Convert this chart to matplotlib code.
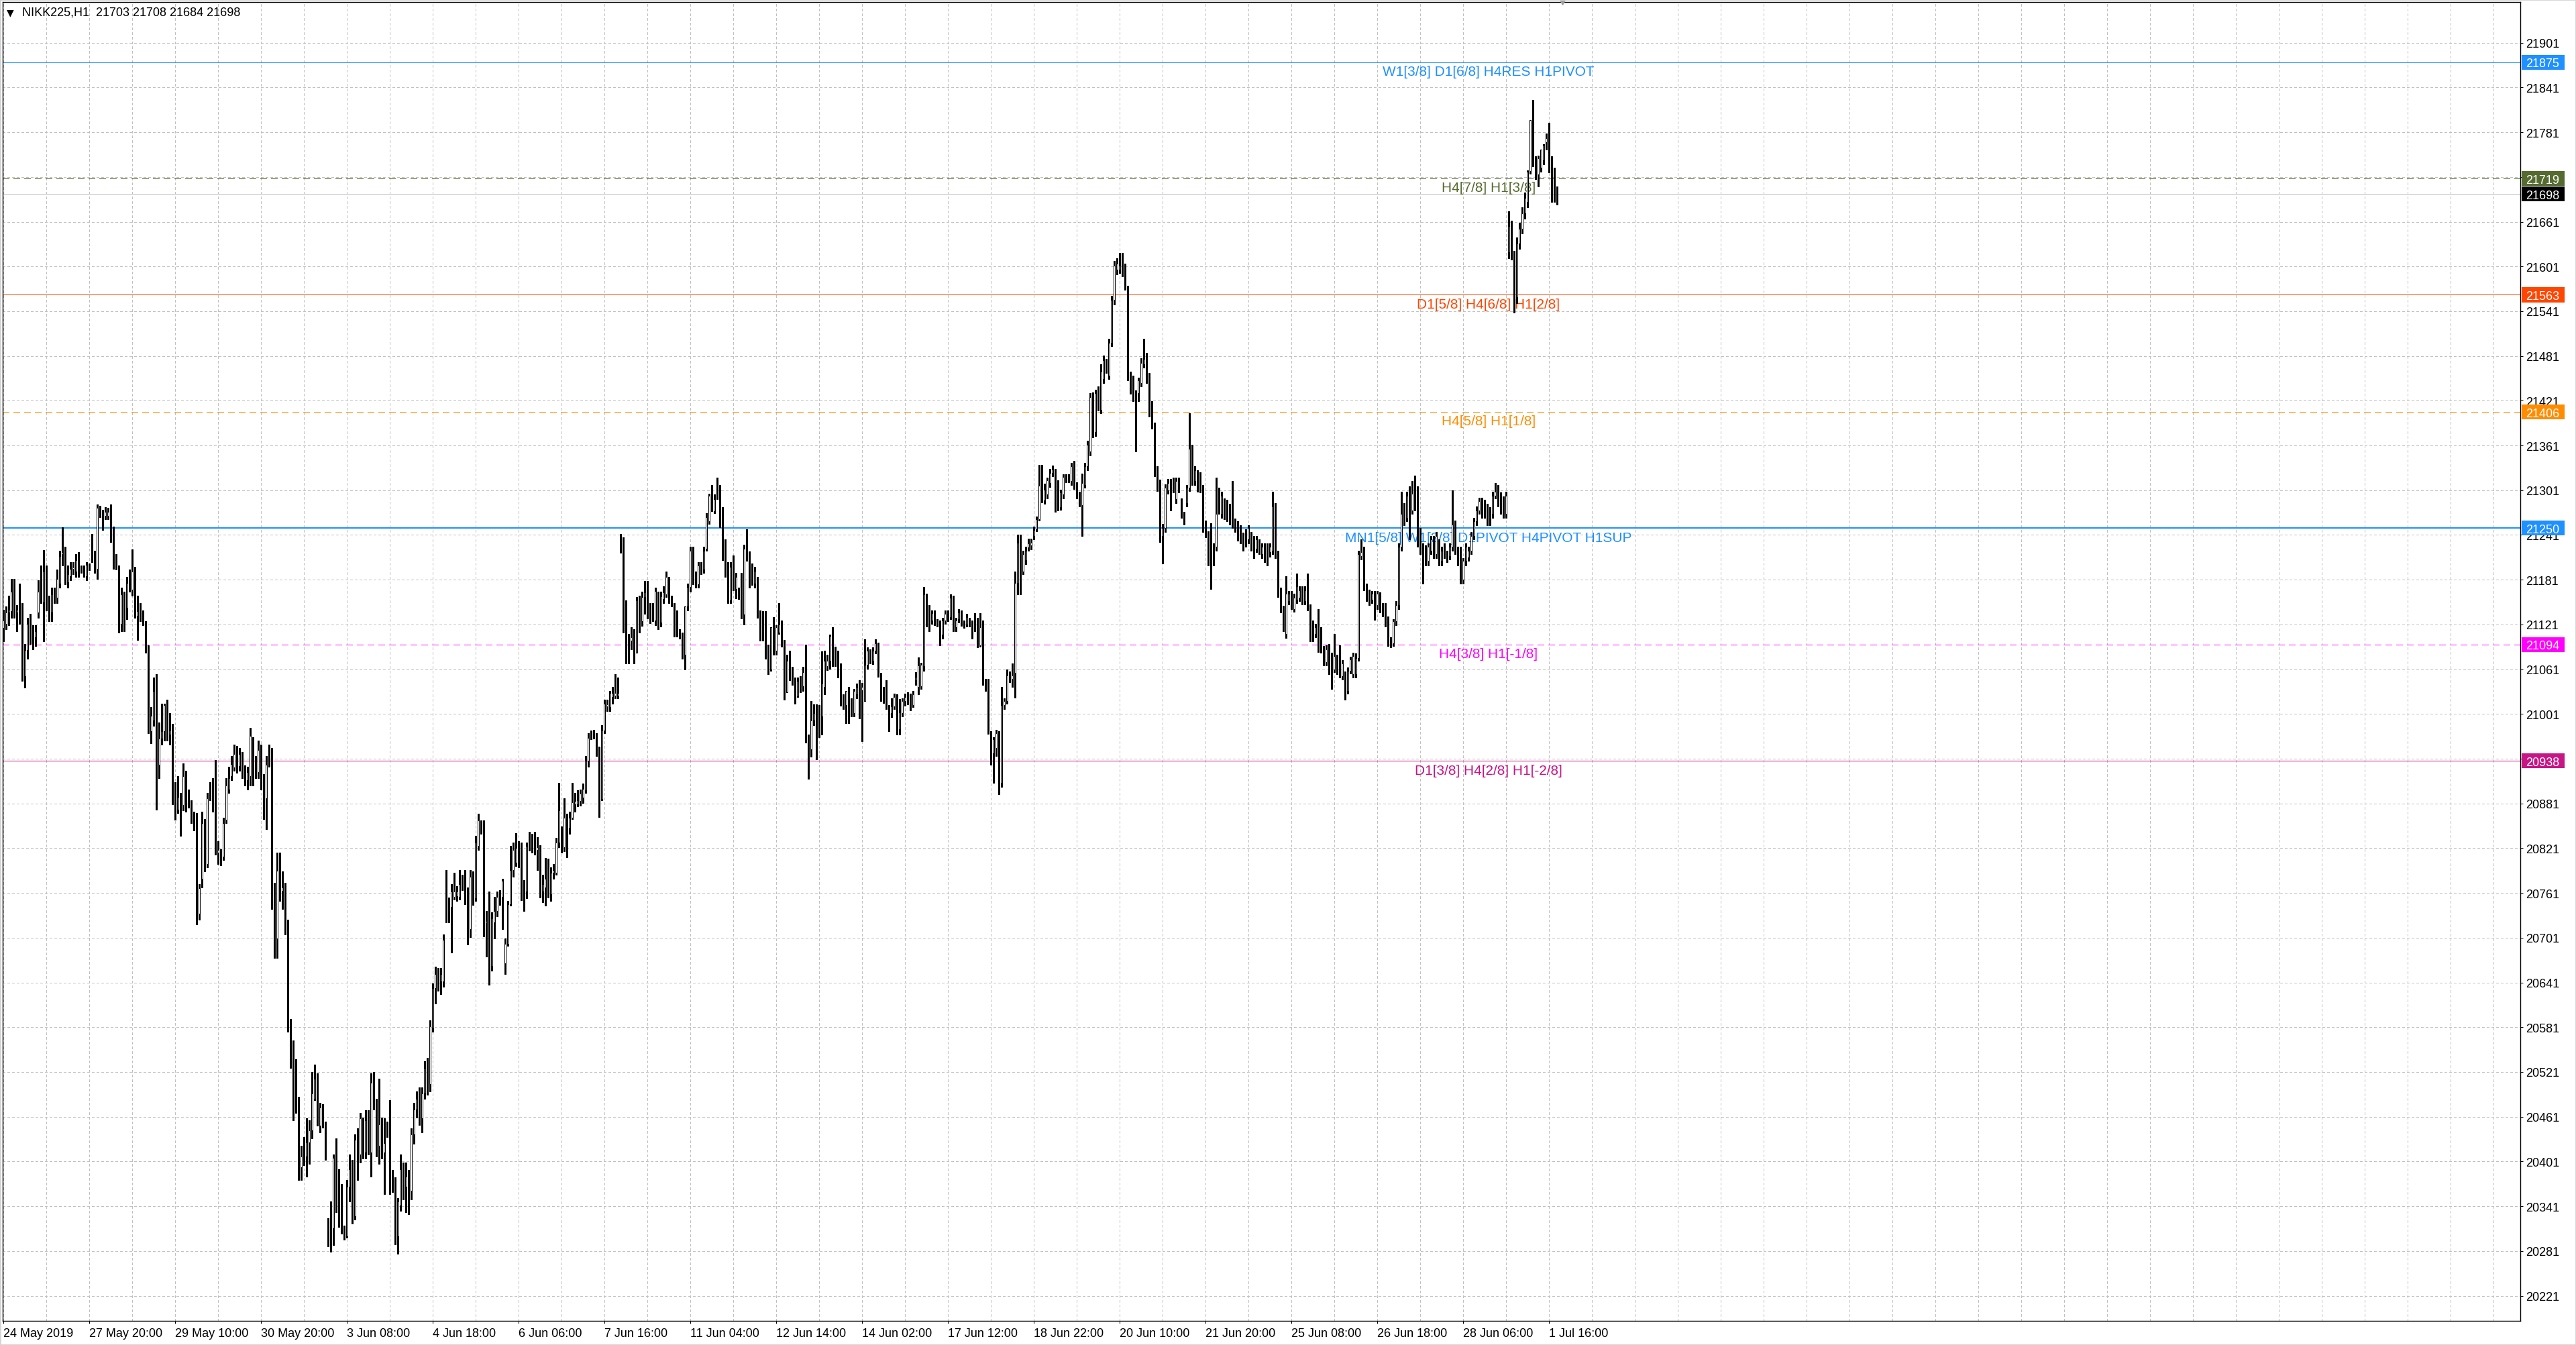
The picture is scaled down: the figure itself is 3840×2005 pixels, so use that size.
import numpy as np
import matplotlib
matplotlib.use('Agg')
import matplotlib.pyplot as plt
from matplotlib.patches import Rectangle
from matplotlib.transforms import blended_transform_factory

plt.rcParams['font.family'] = ['Liberation Sans', 'DejaVu Sans']

symbol = 'NIKK225,H1'
last_bar = [21703, 21708, 21684, 21698]  # O H L C shown in the header
bid = 21698

# hourly bars, 24 May 2019 -> 1 Jul 2019 (10 bars per row)
opens = [
    21116, 21122, 21137, 21139, 21165, 21137, 21141, 21137, 21052, 21087,
    21126, 21112, 21104, 21137, 21161, 21151, 21188, 21151, 21137, 21157,
    21157, 21176, 21215, 21217, 21178, 21186, 21196, 21192, 21212, 21196,
    21193, 21186, 21198, 21222, 21217, 21196, 21272, 21268, 21267, 21267,
    21267, 21241, 21212, 21197, 21122, 21161, 21143, 21177, 21168, 21192,
    21133, 21142, 21133, 21122, 21087, 20978, 20992, 21028, 20933, 20968,
    20978, 21008, 20973, 20983, 20898, 20873, 20890, 20879, 20914, 20890,
    20879, 20863, 20859, 20733, 20780, 20855, 20800, 20902, 20908, 20873,
    20815, 20813, 20810, 20859, 20900, 20918, 20929, 20947, 20931, 20942,
    20927, 20912, 20918, 20966, 20933, 20923, 20953, 20917, 20888, 20949,
    20944, 20768, 20700, 20791, 20764, 20764, 20717, 20577, 20550, 20483,
    20483, 20393, 20408, 20408, 20427, 20443, 20485, 20512, 20449, 20473,
    20442, 20316, 20315, 20311, 20411, 20381, 20367, 20313, 20301, 20367,
    20395, 20328, 20430, 20410, 20446, 20413, 20456, 20413, 20507, 20473,
    20422, 20451, 20413, 20451, 20437, 20376, 20372, 20301, 20342, 20391,
    20367, 20381, 20362, 20437, 20471, 20492, 20459, 20492, 20526, 20505,
    20580, 20633, 20652, 20642, 20642, 20783, 20751, 20742, 20756, 20757,
    20756, 20773, 20773, 20759, 20713, 20778, 20754, 20824, 20853, 20843,
    20722, 20722, 20663, 20722, 20737, 20756, 20756, 20667, 20693, 20746,
    20792, 20802, 20821, 20814, 20766, 20763, 20826, 20829, 20822, 20819,
    20813, 20763, 20768, 20780, 20759, 20788, 20788, 20829, 20845, 20822,
    20860, 20848, 20862, 20880, 20880, 20884, 20889, 20899, 20938, 20974,
    20974, 20969, 20952, 20887, 20979, 21011, 21010, 21024, 21026, 21026,
    21238, 21228, 21108, 21099, 21099, 21104, 21083, 21153, 21125, 21158,
    21164, 21144, 21143, 21126, 21159, 21124, 21155, 21161, 21179, 21155,
    21145, 21136, 21110, 21105, 21080, 21145, 21171, 21215, 21185, 21175,
    21200, 21195, 21223, 21259, 21294, 21273, 21293, 21299, 21268, 21230,
    21198, 21153, 21203, 21169, 21163, 21163, 21134, 21229, 21214, 21193,
    21176, 21179, 21134, 21115, 21105, 21085, 21061, 21117, 21086, 21110,
    21121, 21096, 21030, 21072, 21058, 21042, 21025, 21049, 21038, 21057,
    20965, 20954, 20992, 21000, 21000, 20998, 21037, 21065, 21072, 21110,
    21083, 21078, 21067, 21022, 21013, 21032, 21014, 21002, 21027, 21037,
    21033, 21018, 21067, 21086, 21072, 21086, 21093, 21048, 21034, 21027,
    21013, 21002, 21011, 21024, 20981, 21002, 21018, 21022, 21024, 21013,
    21046, 21037, 21038, 21065, 21158, 21142, 21126, 21136, 21123, 21123,
    21107, 21126, 21135, 21131, 21157, 21117, 21128, 21137, 21123, 21121,
    21126, 21121, 21126, 21126, 21093, 21121, 21043, 21043, 20967, 20948,
    20955, 20973, 20909, 21013, 21018, 21053, 21048, 21056, 21177, 21231,
    21192, 21207, 21224, 21227, 21240, 21249, 21262, 21314, 21287, 21295,
    21311, 21324, 21326, 21309, 21278, 21295, 21319, 21319, 21313, 21335,
    21308, 21294, 21281, 21308, 21333, 21353, 21426, 21379, 21431, 21409,
    21450, 21472, 21455, 21499, 21556, 21597, 21597, 21605, 21597, 21570,
    21455, 21448, 21431, 21431, 21445, 21470, 21480, 21453, 21416, 21389,
    21328, 21311, 21240, 21250, 21301, 21311, 21313, 21289, 21313, 21286,
    21269, 21284, 21304, 21357, 21313, 21323, 21321, 21304, 21255, 21242,
    21252, 21225, 21225, 21299, 21269, 21286, 21284, 21279, 21274, 21259,
    21255, 21250, 21240, 21245, 21235, 21240, 21235, 21223, 21230, 21215,
    21225, 21225, 21218, 21220, 21279, 21215, 21167, 21142, 21108, 21152,
    21162, 21142, 21154, 21157, 21167, 21152, 21176, 21145, 21122, 21108,
    21117, 21113, 21088, 21071, 21091, 21079, 21061, 21076, 21069, 21052,
    21054, 21032, 21059, 21054, 21054, 21076, 21213, 21220, 21172, 21164,
    21154, 21162, 21147, 21160, 21147, 21147, 21130, 21100, 21096, 21125,
    21147, 21225, 21279, 21264, 21301, 21274, 21304, 21301, 21245, 21225,
    21223, 21206, 21220, 21235, 21215, 21230, 21206, 21225, 21213, 21213,
    21225, 21255, 21220, 21220, 21181, 21206, 21211, 21220, 21240, 21259,
    21274, 21286, 21284, 21279, 21274, 21269, 21294, 21304, 21294, 21289,
    21269, 21620, 21655, 21617, 21560, 21632, 21652, 21672, 21688, 21729,
    21794, 21738, 21724, 21733, 21743, 21768, 21773, 21729, 21724, 21703,
]
highs = [
    21141, 21145, 21160, 21182, 21182, 21147, 21176, 21150, 21095, 21130,
    21135, 21120, 21120, 21180, 21200, 21221, 21200, 21160, 21170, 21170,
    21195, 21220, 21251, 21225, 21200, 21205, 21205, 21215, 21218, 21200,
    21200, 21205, 21203, 21242, 21220, 21282, 21280, 21275, 21278, 21277,
    21282, 21252, 21215, 21200, 21170, 21165, 21185, 21195, 21222, 21198,
    21160, 21150, 21140, 21125, 21093, 21010, 21050, 21054, 20990, 21015,
    21015, 21020, 21002, 20988, 20910, 20918, 20895, 20935, 20925, 20900,
    20885, 20870, 20868, 20773, 20870, 20860, 20895, 20910, 20915, 20939,
    20830, 20820, 20862, 20915, 20930, 20945, 20960, 20958, 20955, 20950,
    20932, 20930, 20982, 20970, 20945, 20965, 20960, 20920, 20945, 20960,
    20955, 20775, 20815, 20815, 20790, 20775, 20725, 20592, 20563, 20538,
    20488, 20422, 20434, 20459, 20456, 20521, 20531, 20519, 20480, 20478,
    20454, 20325, 20347, 20410, 20432, 20391, 20371, 20315, 20376, 20410,
    20403, 20437, 20445, 20466, 20460, 20470, 20470, 20519, 20521, 20485,
    20512, 20460, 20459, 20454, 20483, 20390, 20380, 20352, 20410, 20400,
    20400, 20390, 20445, 20480, 20495, 20500, 20500, 20535, 20540, 20590,
    20640, 20662, 20660, 20660, 20705, 20792, 20755, 20773, 20788, 20770,
    20792, 20785, 20792, 20768, 20792, 20790, 20838, 20867, 20858, 20858,
    20737, 20763, 20735, 20756, 20763, 20765, 20780, 20700, 20750, 20824,
    20829, 20841, 20830, 20829, 20778, 20829, 20843, 20840, 20843, 20836,
    20825, 20785, 20808, 20807, 20795, 20800, 20835, 20909, 20850, 20888,
    20867, 20870, 20909, 20895, 20899, 20900, 20908, 20945, 20975, 20979,
    20980, 20975, 20957, 20986, 21020, 21020, 21032, 21037, 21054, 21050,
    21242, 21238, 21153, 21108, 21117, 21115, 21158, 21160, 21165, 21179,
    21179, 21150, 21150, 21170, 21165, 21165, 21172, 21192, 21185, 21160,
    21150, 21140, 21115, 21110, 21145, 21176, 21225, 21225, 21192, 21205,
    21205, 21225, 21270, 21296, 21308, 21295, 21318, 21308, 21278, 21235,
    21205, 21205, 21214, 21190, 21170, 21190, 21228, 21249, 21219, 21203,
    21198, 21185, 21140, 21139, 21139, 21094, 21117, 21131, 21120, 21150,
    21126, 21100, 21080, 21086, 21064, 21050, 21050, 21052, 21064, 21094,
    20973, 21018, 21014, 21014, 21013, 21085, 21086, 21080, 21107, 21117,
    21091, 21086, 21069, 21027, 21032, 21037, 21022, 21035, 21042, 21046,
    21043, 21101, 21090, 21088, 21090, 21101, 21097, 21056, 21037, 21046,
    21013, 21022, 21028, 21027, 21021, 21022, 21028, 21030, 21028, 21032,
    21057, 21077, 21070, 21171, 21162, 21147, 21140, 21140, 21128, 21126,
    21130, 21140, 21140, 21161, 21160, 21130, 21142, 21140, 21126, 21135,
    21130, 21126, 21136, 21130, 21136, 21126, 21048, 21048, 20978, 20970,
    20980, 20978, 21037, 21022, 21061, 21058, 21069, 21192, 21241, 21241,
    21220, 21225, 21236, 21236, 21252, 21266, 21335, 21335, 21310, 21318,
    21330, 21334, 21330, 21314, 21302, 21322, 21322, 21322, 21338, 21340,
    21312, 21299, 21323, 21338, 21367, 21431, 21432, 21436, 21440, 21470,
    21482, 21477, 21504, 21562, 21608, 21612, 21619, 21619, 21605, 21575,
    21460, 21455, 21435, 21452, 21478, 21504, 21485, 21458, 21420, 21392,
    21333, 21315, 21256, 21309, 21316, 21316, 21318, 21318, 21318, 21290,
    21272, 21308, 21404, 21362, 21333, 21328, 21325, 21308, 21260, 21246,
    21257, 21230, 21318, 21304, 21299, 21290, 21288, 21283, 21313, 21263,
    21259, 21254, 21244, 21249, 21254, 21245, 21240, 21240, 21235, 21230,
    21230, 21230, 21230, 21299, 21284, 21220, 21170, 21146, 21186, 21166,
    21166, 21162, 21189, 21172, 21172, 21172, 21189, 21148, 21126, 21122,
    21142, 21117, 21092, 21093, 21095, 21083, 21108, 21080, 21093, 21073,
    21058, 21063, 21078, 21083, 21082, 21220, 21235, 21225, 21176, 21168,
    21166, 21166, 21166, 21164, 21150, 21150, 21132, 21104, 21128, 21152,
    21230, 21299, 21284, 21299, 21306, 21313, 21321, 21306, 21250, 21230,
    21227, 21230, 21240, 21240, 21245, 21235, 21225, 21230, 21220, 21230,
    21301, 21260, 21225, 21225, 21210, 21230, 21225, 21245, 21264, 21279,
    21291, 21291, 21288, 21283, 21278, 21299, 21311, 21308, 21298, 21293,
    21299, 21675, 21662, 21622, 21640, 21660, 21680, 21700, 21730, 21797,
    21824, 21749, 21750, 21758, 21765, 21779, 21794, 21749, 21733, 21708,
]
lows = [
    21098, 21115, 21120, 21130, 21130, 21112, 21122, 21045, 21036, 21075,
    21095, 21088, 21092, 21130, 21150, 21098, 21140, 21125, 21125, 21150,
    21150, 21170, 21200, 21175, 21170, 21180, 21188, 21185, 21185, 21190,
    21185, 21180, 21194, 21205, 21190, 21182, 21265, 21248, 21262, 21262,
    21232, 21196, 21195, 21110, 21112, 21112, 21128, 21165, 21160, 21130,
    21100, 21125, 21120, 21083, 20975, 20962, 20985, 20873, 20915, 20960,
    20965, 20965, 20960, 20880, 20859, 20868, 20838, 20872, 20870, 20875,
    20855, 20845, 20719, 20725, 20768, 20790, 20795, 20885, 20870, 20812,
    20800, 20798, 20805, 20855, 20895, 20912, 20925, 20922, 20925, 20915,
    20905, 20900, 20905, 20905, 20915, 20915, 20900, 20860, 20847, 20930,
    20740, 20674, 20674, 20750, 20740, 20705, 20575, 20526, 20456, 20466,
    20376, 20376, 20396, 20381, 20398, 20432, 20483, 20449, 20440, 20446,
    20403, 20287, 20280, 20289, 20333, 20313, 20304, 20296, 20299, 20347,
    20318, 20323, 20376, 20400, 20405, 20405, 20410, 20381, 20471, 20408,
    20398, 20405, 20357, 20434, 20357, 20360, 20290, 20277, 20335, 20350,
    20333, 20330, 20350, 20425, 20460, 20450, 20440, 20485, 20490, 20495,
    20575, 20613, 20630, 20625, 20635, 20722, 20722, 20681, 20752, 20750,
    20752, 20765, 20746, 20692, 20702, 20745, 20750, 20819, 20840, 20703,
    20676, 20638, 20657, 20700, 20730, 20745, 20713, 20652, 20690, 20744,
    20783, 20797, 20795, 20751, 20737, 20754, 20818, 20815, 20812, 20792,
    20755, 20749, 20744, 20755, 20750, 20780, 20785, 20822, 20815, 20817,
    20809, 20840, 20860, 20870, 20877, 20878, 20882, 20895, 20930, 20967,
    20968, 20945, 20863, 20885, 20975, 21005, 21005, 21015, 21022, 21022,
    21217, 21110, 21069, 21069, 21088, 21069, 21083, 21110, 21119, 21135,
    21129, 21123, 21125, 21120, 21115, 21118, 21150, 21158, 21150, 21145,
    21105, 21105, 21102, 21075, 21061, 21140, 21165, 21175, 21170, 21170,
    21188, 21190, 21220, 21256, 21273, 21270, 21289, 21251, 21207, 21185,
    21150, 21150, 21167, 21156, 21155, 21129, 21121, 21206, 21170, 21174,
    21170, 21130, 21099, 21099, 21075, 21054, 21059, 21080, 21080, 21108,
    21091, 21020, 21030, 21046, 21040, 21015, 21024, 21030, 21032, 20963,
    20914, 20944, 20986, 20940, 20970, 20973, 21027, 21060, 21062, 21065,
    21065, 21050, 21012, 21008, 20989, 20989, 20998, 20998, 21022, 20995,
    20964, 21018, 21062, 21069, 21068, 21082, 21051, 21018, 21016, 21008,
    20978, 20997, 21008, 20973, 20973, 20998, 21012, 21014, 21006, 21010,
    21040, 21027, 21035, 21059, 21118, 21112, 21122, 21120, 21118, 21093,
    21102, 21122, 21125, 21128, 21112, 21112, 21124, 21119, 21116, 21118,
    21118, 21102, 21112, 21090, 21091, 21040, 21032, 20974, 20933, 20909,
    20945, 20893, 20903, 21008, 21015, 21044, 21037, 21023, 21161, 21161,
    21188, 21202, 21220, 21222, 21235, 21246, 21260, 21285, 21283, 21290,
    21305, 21320, 21272, 21274, 21275, 21290, 21312, 21312, 21308, 21303,
    21290, 21279, 21240, 21304, 21328, 21348, 21372, 21374, 21408, 21404,
    21445, 21458, 21450, 21494, 21550, 21590, 21592, 21588, 21570, 21448,
    21430, 21420, 21353, 21420, 21440, 21465, 21445, 21400, 21384, 21320,
    21300, 21232, 21203, 21245, 21296, 21274, 21298, 21284, 21298, 21264,
    21255, 21279, 21300, 21308, 21308, 21299, 21298, 21245, 21238, 21200,
    21169, 21200, 21220, 21269, 21264, 21262, 21259, 21255, 21250, 21245,
    21233, 21230, 21220, 21225, 21230, 21220, 21210, 21218, 21215, 21210,
    21205, 21200, 21212, 21215, 21210, 21158, 21137, 21112, 21103, 21148,
    21142, 21138, 21150, 21152, 21148, 21148, 21140, 21098, 21098, 21104,
    21084, 21083, 21066, 21066, 21054, 21035, 21057, 21054, 21050, 21047,
    21020, 21028, 21055, 21050, 21050, 21072, 21208, 21167, 21152, 21147,
    21150, 21127, 21142, 21137, 21132, 21118, 21092, 21090, 21092, 21120,
    21142, 21220, 21254, 21259, 21235, 21269, 21274, 21225, 21215, 21176,
    21200, 21200, 21215, 21210, 21210, 21200, 21200, 21210, 21205, 21208,
    21220, 21215, 21200, 21176, 21176, 21200, 21206, 21215, 21235, 21254,
    21269, 21264, 21264, 21254, 21254, 21264, 21290, 21279, 21269, 21264,
    21264, 21612, 21610, 21539, 21552, 21625, 21645, 21665, 21680, 21725,
    21735, 21718, 21708, 21728, 21738, 21758, 21727, 21688, 21688, 21684,
]
closes = [
    21126, 21137, 21141, 21165, 21141, 21141, 21140, 21052, 21087, 21122,
    21106, 21106, 21112, 21165, 21157, 21192, 21151, 21143, 21161, 21158,
    21182, 21213, 21217, 21180, 21188, 21196, 21197, 21207, 21196, 21196,
    21192, 21201, 21199, 21217, 21196, 21277, 21273, 21267, 21272, 21272,
    21237, 21217, 21203, 21118, 21161, 21147, 21177, 21172, 21192, 21137,
    21139, 21138, 21126, 21089, 20982, 20999, 21032, 20929, 20968, 20978,
    21013, 20972, 20979, 20898, 20873, 20890, 20879, 20918, 20892, 20884,
    20868, 20859, 20733, 20767, 20855, 20803, 20888, 20901, 20879, 20820,
    20819, 20810, 20855, 20905, 20915, 20934, 20947, 20927, 20947, 20923,
    20917, 20923, 20972, 20923, 20923, 20953, 20912, 20888, 20933, 20939,
    20768, 20700, 20791, 20764, 20768, 20715, 20577, 20548, 20483, 20482,
    20393, 20408, 20409, 20427, 20443, 20492, 20512, 20451, 20473, 20449,
    20413, 20315, 20314, 20406, 20381, 20367, 20313, 20301, 20367, 20391,
    20328, 20430, 20400, 20459, 20413, 20456, 20417, 20507, 20473, 20422,
    20451, 20413, 20426, 20437, 20376, 20372, 20301, 20347, 20391, 20367,
    20381, 20362, 20437, 20471, 20485, 20459, 20492, 20526, 20505, 20582,
    20633, 20652, 20651, 20652, 20698, 20742, 20742, 20763, 20763, 20763,
    20773, 20774, 20759, 20717, 20783, 20754, 20829, 20858, 20843, 20727,
    20723, 20663, 20727, 20737, 20756, 20757, 20777, 20693, 20746, 20792,
    20819, 20821, 20802, 20768, 20761, 20824, 20825, 20819, 20818, 20822,
    20763, 20773, 20780, 20759, 20788, 20792, 20829, 20872, 20822, 20862,
    20848, 20862, 20883, 20884, 20885, 20894, 20901, 20938, 20969, 20975,
    20973, 20952, 20887, 20979, 21015, 21014, 21029, 21029, 21029, 21029,
    21233, 21113, 21094, 21098, 21104, 21094, 21153, 21125, 21158, 21164,
    21144, 21132, 21134, 21166, 21124, 21159, 21164, 21185, 21155, 21150,
    21136, 21110, 21110, 21080, 21145, 21171, 21220, 21180, 21178, 21200,
    21195, 21220, 21265, 21294, 21278, 21289, 21294, 21268, 21233, 21193,
    21153, 21198, 21169, 21185, 21162, 21134, 21223, 21209, 21176, 21176,
    21193, 21134, 21113, 21105, 21080, 21064, 21117, 21086, 21117, 21121,
    21096, 21027, 21072, 21056, 21046, 21027, 21045, 21038, 21057, 20970,
    20949, 20992, 21002, 21000, 20992, 21042, 21072, 21072, 21106, 21086,
    21072, 21067, 21018, 21018, 21032, 21002, 21002, 21032, 21037, 21002,
    21037, 21067, 21086, 21072, 21086, 21096, 21051, 21037, 21035, 21008,
    21002, 21011, 21024, 20983, 21003, 21018, 21024, 21018, 21010, 21027,
    21051, 21066, 21067, 21161, 21123, 21126, 21136, 21126, 21121, 21107,
    21126, 21135, 21131, 21157, 21117, 21126, 21137, 21123, 21121, 21131,
    21123, 21112, 21123, 21094, 21117, 21042, 21040, 20978, 20948, 20967,
    20975, 20913, 21013, 21018, 21053, 21048, 21053, 21177, 21231, 21192,
    21215, 21220, 21230, 21231, 21248, 21262, 21307, 21287, 21302, 21314,
    21324, 21329, 21276, 21278, 21298, 21319, 21315, 21318, 21333, 21308,
    21294, 21281, 21311, 21333, 21362, 21426, 21377, 21431, 21414, 21460,
    21475, 21470, 21499, 21556, 21602, 21605, 21602, 21592, 21575, 21453,
    21445, 21426, 21396, 21448, 21472, 21477, 21450, 21416, 21389, 21328,
    21308, 21240, 21250, 21304, 21311, 21279, 21304, 21313, 21304, 21269,
    21264, 21304, 21357, 21313, 21328, 21304, 21304, 21250, 21242, 21211,
    21198, 21206, 21269, 21274, 21294, 21267, 21264, 21259, 21255, 21250,
    21238, 21235, 21225, 21230, 21250, 21225, 21220, 21235, 21220, 21225,
    21213, 21213, 21225, 21279, 21215, 21164, 21142, 21117, 21162, 21162,
    21147, 21157, 21172, 21167, 21152, 21167, 21145, 21103, 21103, 21117,
    21088, 21088, 21071, 21088, 21059, 21059, 21079, 21059, 21054, 21069,
    21032, 21059, 21074, 21079, 21076, 21215, 21218, 21172, 21157, 21152,
    21162, 21147, 21162, 21142, 21137, 21135, 21096, 21096, 21125, 21147,
    21225, 21269, 21259, 21294, 21240, 21296, 21279, 21230, 21220, 21211,
    21206, 21225, 21235, 21215, 21240, 21206, 21220, 21215, 21213, 21225,
    21255, 21220, 21206, 21181, 21206, 21225, 21220, 21240, 21259, 21274,
    21286, 21269, 21269, 21259, 21259, 21294, 21299, 21284, 21274, 21269,
    21294, 21655, 21617, 21560, 21632, 21652, 21672, 21693, 21728, 21797,
    21739, 21724, 21746, 21758, 21763, 21773, 21729, 21723, 21699, 21698,
]

time_labels = ['24 May 2019', '27 May 20:00', '29 May 10:00', '30 May 20:00',
               '3 Jun 08:00', '4 Jun 18:00', '6 Jun 06:00', '7 Jun 16:00',
               '11 Jun 04:00', '12 Jun 14:00', '14 Jun 02:00', '17 Jun 12:00',
               '18 Jun 22:00', '20 Jun 10:00', '21 Jun 20:00', '25 Jun 08:00',
               '26 Jun 18:00', '28 Jun 06:00', '1 Jul 16:00']
bars_per_label = 32

levels = [21875, 21719, 21563, 21406, 21250, 21094, 20938]
level_names = ['W1[3/8] D1[6/8] H4RES H1PIVOT', 'H4[7/8] H1[3/8]',
               'D1[5/8] H4[6/8] H1[2/8]', 'H4[5/8] H1[1/8]',
               'MN1[5/8] W1[2/8] D1PIVOT H4PIVOT H1SUP', 'H4[3/8] H1[-1/8]',
               'D1[3/8] H4[2/8] H1[-2/8]']
level_colors = ['#1e90ff', '#556b2f', '#ff4500', '#ff8c00', '#1e90ff', '#ff00ff', '#c71585']
level_dashed = [False, True, False, True, False, True, False]
level_width_px = [1, 1, 1, 1, 2, 1, 1]

price_ticks = list(range(20221, 21902, 60))

# ---- figure ----
W, H = 3840, 2006
px = 0.72  # one pixel in points at dpi 100
fig = plt.figure(figsize=(W / 100, H / 100), dpi=100)
ax_l, ax_r, ax_t, ax_b = 4, 3757, 4, 1970
ax = fig.add_axes([ax_l / W, 1 - ax_b / H, (ax_r - ax_l) / W, (ax_b - ax_t) / H])
ax.set_facecolor('white')

x = np.arange(len(closes))
o = np.array(opens)
h = np.array(highs)
l = np.array(lows)
c = np.array(closes)
up = c >= o

ax.vlines(x, l, h, color='black', lw=1.2 * px, zorder=3, antialiased=False)
ax.bar(x, np.abs(c - o), bottom=np.minimum(o, c), width=0.5,
       color=['white' if u else 'black' for u in up],
       edgecolor='black', linewidth=1.0 * px, zorder=4, antialiased=False)

# level lines and their captions
for p, name, col, dashed, w in zip(levels, level_names, level_colors, level_dashed, level_width_px):
    ls = (0, (10, 6)) if dashed else '-'
    ax.axhline(p, color=col, lw=w * px, linestyle=ls, zorder=2, antialiased=False)
    ax.annotate(name, xy=(553.5, p), xytext=(0, -3), textcoords='offset points',
                ha='center', va='top', color=col, fontsize=15, zorder=2.6)
ax.axhline(bid, color='#c0c0c0', lw=px, zorder=2, antialiased=False)

# grid and ticks
ax.set_xlim(-0.175, 938.08)
ax.set_ylim(20187.3, 21955.6)
ax.set_xticks(np.arange(0, len(closes), bars_per_label))
ax.set_xticklabels(time_labels, ha='left')
ax.set_xticks(np.arange(16, 939, 16), minor=True)
ax.set_yticks(price_ticks)
ax.set_yticklabels([str(v) for v in price_ticks])
grid_kw = dict(color='#c0c0c0', lw=px, linestyle=(0, (3, 3)), antialiased=False)
ax.grid(True, which='both', axis='x', **grid_kw)
ax.grid(True, which='major', axis='y', **grid_kw)
ax.set_axisbelow(True)
ax.tick_params(axis='x', which='minor', length=0)
ax.tick_params(axis='x', which='major', length=2.9, width=px, labelsize=13, pad=4.5, direction='out')
ax.tick_params(axis='y', left=False, right=True, labelleft=False, labelright=True,
               length=2.9, width=px, labelsize=13, pad=3)
for s in ax.spines.values():
    s.set_color('black')
    s.set_linewidth(1.0)

# price boxes on the right scale
trans = blended_transform_factory(ax.transAxes, ax.transData)
box_prices = levels + [bid]
box_colors = level_colors + ['black']
for p, col in zip(box_prices, box_colors):
    ax.add_patch(Rectangle((1.0005, p - 9.9), 0.0171, 19.8, transform=trans,
                           facecolor=col, edgecolor='none', clip_on=False, zorder=5))
    ax.text(1.0021, p, str(p), transform=trans, color='white', fontsize=13,
            va='center_baseline', ha='left', zorder=6, clip_on=False)

# header and chart shift marker
fig.text(10 / W, 1 - 19 / H, '\u25bc', fontsize=10, va='center', ha='left', family='DejaVu Sans')
fig.text(33 / W, 1 - 19 / H, symbol + '  ' + ' '.join(str(v) for v in last_bar),
         fontsize=13, va='center', ha='left')
ax.plot([581], [21955.6], marker='v', color='#a0a0a0', ms=6, clip_on=False, zorder=6)

fig.add_artist(Rectangle((0, 0), 1, 1, transform=fig.transFigure, fill=False,
                         edgecolor='#d4d4d4', lw=2))

fig.savefig('out.png', dpi=100, facecolor='white')
